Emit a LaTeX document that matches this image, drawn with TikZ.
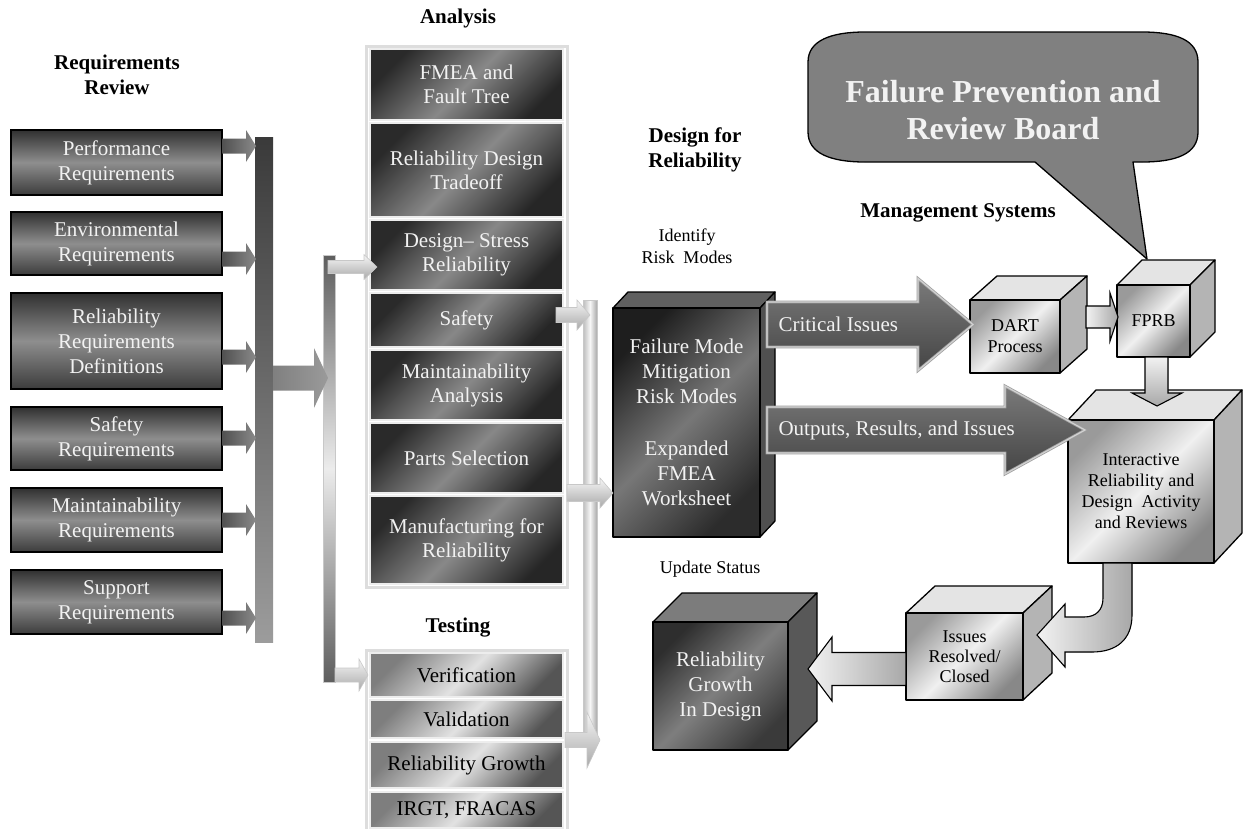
\documentclass[tikz,border=0pt]{standalone}
\usepackage{fontspec}
\setmainfont{Liberation Serif}
\usetikzlibrary{calc}
\definecolor{reqtop}{HTML}{303030}
\definecolor{reqmid}{HTML}{8E8E8E}
\definecolor{reqbot}{HTML}{3C3C3C}
\definecolor{andark}{HTML}{2A2A2A}
\definecolor{anmid}{HTML}{888888}
\definecolor{andark2}{HTML}{262626}
\definecolor{tsdark}{HTML}{7E7E7E}
\definecolor{tsmid}{HTML}{E2E2E2}
\definecolor{tsdark2}{HTML}{555555}
\definecolor{frameg}{HTML}{DDDDDD}
\definecolor{boxline}{HTML}{8A8A8A}
\definecolor{boxdbl}{HTML}{EDEDED}
\definecolor{lighttop}{HTML}{E4E4E4}
\definecolor{lightside}{HTML}{B4B4B4}
\definecolor{lfa}{HTML}{9A9A9A}
\definecolor{lfb}{HTML}{F0F0F0}
\definecolor{lfc}{HTML}{888888}
\definecolor{darktop}{HTML}{7C7C7C}
\definecolor{darkside}{HTML}{585858}
\definecolor{dfa}{HTML}{2E2E2E}
\definecolor{dfb}{HTML}{7E7E7E}
\definecolor{dfc}{HTML}{3A3A3A}
\definecolor{fmtop}{HTML}{606060}
\definecolor{fmside}{HTML}{505050}
\definecolor{fma}{HTML}{1E1E1E}
\definecolor{fmb}{HTML}{777777}
\definecolor{fmc}{HTML}{2C2C2C}
\definecolor{callg}{HTML}{808080}
\definecolor{bara}{HTML}{3A3A3A}
\definecolor{barb}{HTML}{9C9C9C}
\definecolor{pa}{HTML}{5E5E5E}
\definecolor{pb}{HTML}{ECECEC}
\definecolor{pc}{HTML}{BDBDBD}
\definecolor{pd}{HTML}{F6F6F6}
\definecolor{pe}{HTML}{A9A9A9}
\definecolor{pf}{HTML}{C8C8C8}
\definecolor{ra}{HTML}{505050}
\definecolor{rb}{HTML}{8A8A8A}
\definecolor{ma}{HTML}{808080}
\definecolor{mb}{HTML}{9A9A9A}
\definecolor{ba}{HTML}{7A7A7A}
\definecolor{bb}{HTML}{454545}
\definecolor{bo}{HTML}{A0A0A0}
\definecolor{bd}{HTML}{D2D2D2}
\definecolor{la}{HTML}{F2F2F2}
\definecolor{lb}{HTML}{A8A8A8}
\definecolor{txtw}{HTML}{F2F2F2}

% box node spanning (x1,y1)-(x2,y2): style, name, x1, y1, x2, y2, text
\newcommand{\bx}[7]{%
  \node[#1, minimum width={(#5-#3)*1pt}, minimum height={(#6-#4)*1pt}] (#2) at ({(#3+#5)/2},{(#4+#6)/2}) {#7};}
\newcommand{\cubesides}[7]{%
  \filldraw[cubeline, fill=#7top] (#1,#2) -- ({#1+#5},{#2-#6}) -- ({#3+#5},{#2-#6}) -- (#3,#2) -- cycle;
  \filldraw[cubeline, fill=#7side] (#3,#2) -- ({#3+#5},{#2-#6}) -- ({#3+#5},{#4-#6}) -- (#3,#4) -- cycle;}
\newcommand{\rarr}[7][]{%
  \path[#1] (#2,{#5-#6}) -- (#3,{#5-#6}) -- (#3,{#5-#7}) -- (#4,#5) -- (#3,{#5+#7}) -- (#3,{#5+#6}) -- (#2,{#5+#6}) -- cycle;}

\begin{document}
\begin{tikzpicture}[x=1pt,y=-1pt,
  cubeline/.style={draw=black, line width=1.3pt, line join=round},
  reqbox/.style={draw=black, line width=1.2pt, top color=reqtop, bottom color=reqbot, middle color=reqmid,
     text=txtw, font=\fontsize{21}{25}\selectfont, align=center, inner sep=0pt},
  anbox/.style={draw=boxline, double=boxdbl, double distance=1.4pt, line width=0.7pt,
     top color=andark, bottom color=andark2, middle color=anmid, shading angle=45,
     text=txtw, font=\fontsize{21}{24}\selectfont, align=center, inner sep=0pt},
  tsbox/.style={anbox, top color=tsdark, bottom color=tsdark2, middle color=tsmid, shading angle=45, text=black},
  lightfront/.style={cubeline, top color=lfa, bottom color=lfc, middle color=lfb, shading angle=45,
     font=\fontsize{18}{21}\selectfont, align=center, inner sep=0pt},
  darkfront/.style={cubeline, top color=dfa, bottom color=dfc, middle color=dfb, shading angle=45,
     text=txtw, font=\fontsize{21}{25}\selectfont, align=center, inner sep=0pt},
  fmfront/.style={cubeline, top color=fma, bottom color=fmc, middle color=fmb, shading angle=45,
     text=txtw, font=\fontsize{21}{25}\selectfont, align=center, inner sep=0pt},
  barbox/.style={inner sep=0pt, draw=pf, line width=0.5pt},
  titlelbl/.style={font=\bfseries\fontsize{21}{25}\selectfont, align=center},
  plainlbl/.style={font=\fontsize{18}{22}\selectfont, align=center},
  reqarrow/.style={left color=ra, right color=rb},
  midarrow/.style={left color=ma, right color=mb},
  bigarrow/.style={draw=bo, double=bd, double distance=1.2pt, line width=0.8pt, line join=miter,
     top color=ba, bottom color=bb},
  lightarrow/.style={draw=black, line width=1.1pt, line join=miter, left color=la, right color=lb},
  pillarrow/.style={draw=pf, line width=0.6pt, top color=pd, bottom color=lb},
]
\useasboundingbox (0,0) rectangle (1246,828);

% ---------- Requirements Review ----------
\node[titlelbl] (reqtitle) at (117,75) {Requirements\\Review};
\bx{reqbox}{perf}{11}{130}{222}{195}{Performance\\Requirements}
\bx{reqbox}{env}{11}{212}{222}{275}{Environmental\\Requirements}
\bx{reqbox}{relreq}{11}{293}{222}{389}{Reliability\\Requirements\\Definitions}
\bx{reqbox}{safreq}{11}{407}{222}{470}{Safety\\Requirements}
\bx{reqbox}{mreq}{11}{488}{222}{552}{Maintainability\\Requirements}
\bx{reqbox}{sreq}{11}{570}{222}{634}{Support\\Requirements}

\bx{barbox, draw=none, top color=bara, bottom color=barb}{bar1}{255}{137}{273}{642}{}
\rarr[reqarrow]{222}{246}{256}{146}{7.5}{16}
\rarr[reqarrow]{222}{246}{256}{259}{7.5}{16}
\rarr[reqarrow]{222}{246}{256}{357}{7.5}{16}
\rarr[reqarrow]{222}{246}{256}{438}{7.5}{16}
\rarr[reqarrow]{222}{246}{256}{520}{7.5}{16}
\rarr[reqarrow]{222}{246}{256}{618}{7.5}{16}

% ---------- bar 2 ----------
\bx{barbox, top color=pa, bottom color=pa, middle color=pb}{bar2}{323}{255}{335}{682}{}
\rarr[midarrow]{273}{314}{328}{378}{12.5}{30}

% ---------- Analysis ----------
\node[titlelbl] (antitle) at (458,18) {Analysis};
\draw[frameg, line width=3pt] (366,46) rectangle (567,587);
\bx{anbox}{fmea}{370}{49}{563}{120}{FMEA and\\Fault Tree}
\bx{anbox}{rdt}{370}{123}{563}{217}{Reliability Design\\Tradeoff}
\bx{anbox}{dsr}{370}{220}{563}{290}{Design-- Stress\\Reliability}
\bx{anbox}{safan}{370}{293}{563}{347}{Safety}
\bx{anbox}{maintan}{370}{350}{563}{420}{Maintainability\\Analysis}
\bx{anbox}{parts}{370}{423}{563}{493}{Parts Selection}
\bx{anbox}{mfr}{370}{496}{563}{584}{Manufacturing for\\Reliability}

% ---------- Testing ----------
\node[titlelbl] (tstitle) at (458,628) {Testing};
\draw[frameg, line width=3pt] (366,650) rectangle (567,840);
\bx{tsbox}{ver}{370}{653}{563}{697}{Verification}
\bx{tsbox}{val}{370}{700}{563}{738}{Validation}
\bx{tsbox}{rg}{370}{742}{563}{788}{Reliability Growth}
\bx{tsbox}{irgt}{370}{792}{563}{828}{IRGT, FRACAS}

\rarr[pillarrow]{328}{364}{377}{267}{6.5}{12.5}
\rarr[pillarrow]{335}{359}{368}{675}{7}{16}

% ---------- bar 3 ----------
\bx{barbox, left color=pc, right color=pe, middle color=pd}{bar3}{583}{300}{597}{738}{}
\rarr[pillarrow]{556}{577}{590}{315}{7.5}{15}
\rarr[pillarrow]{565}{587}{600}{740}{7.5}{28}

% ---------- Design for Reliability ----------
\node[titlelbl] (dfrtitle) at (695,150) {Design for\\Reliability};
\node[plainlbl] (identify) at (687,246) {Identify\\Risk\ \ Modes};
\cubesides{613}{308}{760}{537}{15}{16}{fm}
\bx{fmfront}{fm}{613}{308}{760}{537}{Failure Mode\\Mitigation\\Risk Modes\\[27pt]Expanded\\FMEA\\Worksheet}
\rarr[pillarrow]{567}{600}{613}{493}{8.5}{15}

% ---------- Management systems ----------
\node[titlelbl] (mgmt) at (958,213) {Management Systems};

\filldraw[fill=callg, draw=black, line width=1.3pt, line join=round]
  (808,62) .. controls (808,40) and (832,32) .. (865,32) -- (1142,32)
  .. controls (1176,32) and (1198,40) .. (1198,62) -- (1198,132)
  .. controls (1198,154) and (1176,162) .. (1142,162) -- (1133,162) -- (1147,259) -- (1035,162)
  -- (865,162) .. controls (832,162) and (808,154) .. (808,132) -- cycle;
\node[font=\bfseries\fontsize{32}{37}\selectfont, text=txtw, align=center] (fprbtitle) at (1003,110) {Failure Prevention and\\Review Board};

\cubesides{970}{300}{1060}{373}{27}{24}{light}
\bx{lightfront}{dart}{970}{300}{1060}{373}{DART\\Process}
\cubesides{1117}{285}{1190}{357}{25}{25}{light}
\bx{lightfront}{fprb}{1117}{285}{1190}{357}{FPRB}
\cubesides{1068}{420}{1214}{563}{28}{30}{light}
\bx{lightfront}{irdar}{1068}{420}{1214}{563}{Interactive\\Reliability and\\Design\ \ Activity\\and Reviews}
\cubesides{906}{613}{1023}{700}{29}{27}{light}
\bx{lightfront, font=\fontsize{18}{20}\selectfont}{issues}{906}{613}{1023}{700}{Issues\\Resolved/\\Closed}
\cubesides{653}{622}{788}{750}{29}{29}{dark}
\bx{darkfront}{rgd}{653}{622}{788}{750}{Reliability\\Growth\\In Design}
\node[plainlbl] (update) at (710,569) {Update Status};

% ---------- connectors ----------
\rarr[bigarrow]{767}{918}{973}{324.5}{22.5}{46}
\node[text=txtw, font=\fontsize{21}{25}\selectfont, anchor=west] (critlbl) at (775,324) {Critical Issues};
\rarr[bigarrow]{767}{1005}{1085}{430}{23}{44}
\node[text=txtw, font=\fontsize{21}{25}\selectfont, anchor=west] (outlbl) at (775,430) {Outputs, Results, and Issues};

\rarr[lightarrow]{1086}{1110}{1118}{317}{11}{24}
\filldraw[lightarrow, top color=la, bottom color=lb] (1145,357) -- (1145,393) -- (1132,393) -- (1157,406) -- (1182,393) -- (1168,393) -- (1168,357) -- cycle;
\filldraw[lightarrow] (1103,563) -- (1103,598) .. controls (1103,610) and (1096,617) .. (1084,617)
  -- (1065,617) -- (1065,604) -- (1037,635) -- (1065,667) -- (1065,652) -- (1092,652)
  .. controls (1116,652) and (1132,640) .. (1132,615) -- (1132,563) -- cycle;
\rarr[lightarrow]{906}{832}{808}{669}{16.5}{32}
\end{tikzpicture}
\end{document}
